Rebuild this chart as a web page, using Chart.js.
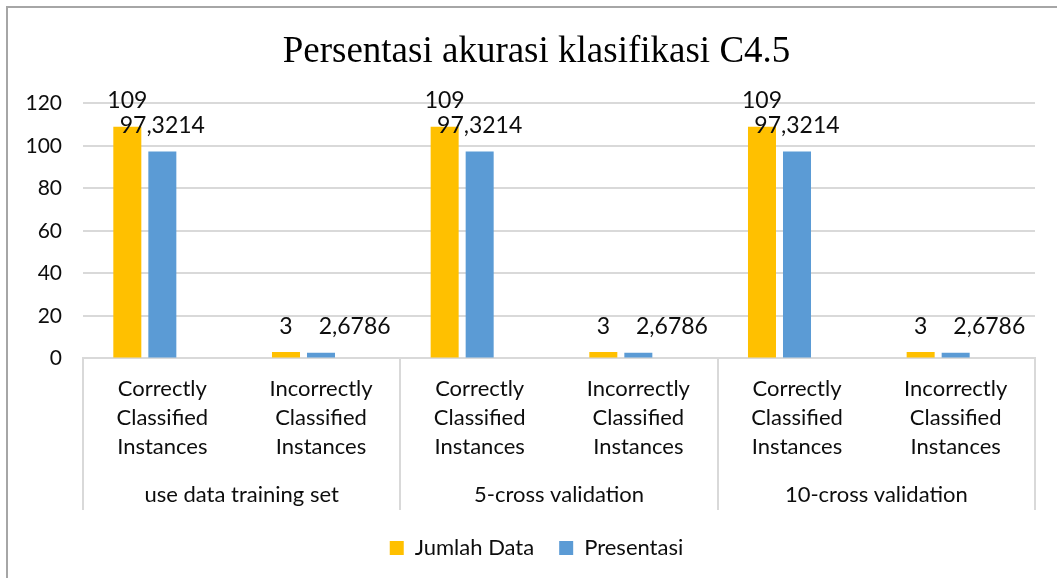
<!DOCTYPE html>
<html>
<head>
<meta charset="utf-8">
<script src="https://cdn.jsdelivr.net/npm/chart.js@4.4.1/dist/chart.umd.min.js"></script>
<style>
    html, body { margin: 0; padding: 0; background: #fff; overflow: hidden; }
    #frame {
        position: absolute; left: 6px; top: 6px; width: 1200px; height: 700px;
        border-top: 2px solid #a6a6a6; border-left: 2px solid #a6a6a6;
    }
    #wrap { position: absolute; left: 0; top: 0; width: 1057px; height: 578px; }
</style>
</head>
<body>
<div id="frame"></div>
<div id="wrap"><canvas id="chart" width="1057" height="578"></canvas></div>
<script>
// categories (two levels) and values
const categories = [
    ['Correctly', 'Classified', 'Instances'],
    ['Incorrectly', 'Classified', 'Instances'],
    ['Correctly', 'Classified', 'Instances'],
    ['Incorrectly', 'Classified', 'Instances'],
    ['Correctly', 'Classified', 'Instances'],
    ['Incorrectly', 'Classified', 'Instances']
];
const groups = ['use data training set', '5-cross validation', '10-cross validation'];
const jumlahData = [109, 3, 109, 3, 109, 3];
const presentasi = [97.3214, 2.6786, 97.3214, 2.6786, 97.3214, 2.6786];
// Excel sheet had an empty third series; it still reserves a slot in each cluster
const emptySeries = [null, null, null, null, null, null];
const yTicks = { min: 0, max: 120, step: 20 };

const TEXT = '#0d0d0d';
const GRID = '#d9d9d9';
const SANS = 'Lato, "Open Sans", sans-serif';

const fmtValue = v => String(v).replace('.', ',');

// value labels drawn above each bar; a label that would collide with the
// previous one in the same cluster is pushed to the right (as Excel does)
const barLabels = {
    id: 'barLabels',
    afterDatasetsDraw(chart) {
        const ctx = chart.ctx;
        ctx.save();
        ctx.font = '23px ' + SANS;
        ctx.fillStyle = TEXT;
        ctx.textBaseline = 'middle';
        ctx.textAlign = 'left';
        const placed = {};
        chart.data.datasets.forEach((ds, di) => {
            const meta = chart.getDatasetMeta(di);
            if (meta.hidden) return;
            meta.data.forEach((bar, i) => {
                const v = ds.data[i];
                if (v == null) return;
                const text = fmtValue(v);
                const w = ctx.measureText(text).width;
                const cy = bar.y - 26;
                let left = bar.x - w / 2;
                const prev = placed[i];
                if (prev && Math.abs(prev.cy - cy) < 20 && left < prev.right + 4) {
                    left = prev.right + 26;
                }
                ctx.fillText(text, left, cy);
                placed[i] = { cy, right: left + w };
            });
        });
        ctx.restore();
    }
};

// vertical separators between the outer category groups
const groupSeparators = {
    id: 'groupSeparators',
    afterDraw(chart) {
        const x = chart.scales.x;
        const g = chart.scales.x2;
        const ctx = chart.ctx;
        const half = (x.getPixelForTick(1) - x.getPixelForTick(0)) / 2;
        ctx.save();
        ctx.strokeStyle = GRID;
        ctx.lineWidth = 2;
        for (let k = 0; k <= groups.length; k++) {
            const px = k < groups.length
                ? x.getPixelForTick(k * 2) - half
                : x.getPixelForTick(categories.length - 1) + half;
            ctx.beginPath();
            ctx.moveTo(Math.round(px), chart.chartArea.bottom);
            ctx.lineTo(Math.round(px), g.bottom - 2);
            ctx.stroke();
        }
        ctx.restore();
    }
};

// y axis box is kept narrow (see afterFit); widen its clip area so the
// tick labels are not cut off on the left
const yLabelRoom = {
    id: 'yLabelRoom',
    afterLayout(chart) {
        chart.scales.y.left = 0;
    }
};

new Chart(document.getElementById('chart'), {
    type: 'bar',
    data: {
        labels: categories,
        datasets: [
            { label: 'Jumlah Data', data: jumlahData, backgroundColor: '#ffc000' },
            { label: 'Presentasi', data: presentasi, backgroundColor: '#5b9bd5' },
            { label: '', data: emptySeries, backgroundColor: '#a5a5a5' }
        ]
    },
    options: {
        responsive: false,
        animation: false,
        barPercentage: 0.8,
        categoryPercentage: 0.662,
        // the original frame runs past the right edge, so title and legend sit right of centre
        layout: { padding: { left: 38, right: 22, top: 10, bottom: 9 } },
        plugins: {
            title: {
                display: true,
                text: 'Persentasi akurasi klasifikasi C4.5',
                color: '#000',
                font: { family: '"Liberation Serif", "Times New Roman", serif', size: 37, weight: 'normal', lineHeight: 1.2 },
                padding: { top: 20, bottom: 29 }
            },
            legend: {
                position: 'bottom',
                labels: {
                    color: TEXT,
                    font: { family: SANS, size: 22 },
                    boxWidth: 14,
                    boxHeight: 14,
                    padding: 25,
                    filter: item => item.text !== ''
                }
            },
            tooltip: { enabled: false }
        },
        scales: {
            x: {
                grid: { display: false, drawTicks: false },
                border: { color: GRID, width: 2 },
                ticks: {
                    color: TEXT,
                    font: { family: SANS, size: 22, lineHeight: 1.32 },
                    padding: 16,
                    maxRotation: 0,
                    autoSkip: false
                }
            },
            x2: {
                type: 'category',
                position: 'bottom',
                labels: groups,
                grid: { display: false, drawTicks: false },
                border: { display: false },
                ticks: {
                    color: TEXT,
                    font: { family: SANS, size: 22, lineHeight: 1.2 },
                    padding: 4,
                    maxRotation: 0
                }
            },
            y: {
                min: yTicks.min,
                max: yTicks.max,
                border: { display: false },
                grid: { color: GRID, lineWidth: 2, drawTicks: false },
                afterFit: scale => { scale.width = 45; },
                ticks: {
                    stepSize: yTicks.step,
                    color: TEXT,
                    font: { family: SANS, size: 21 },
                    padding: 21
                }
            }
        }
    },
    plugins: [barLabels, groupSeparators, yLabelRoom]
});
</script>
</body>
</html>
